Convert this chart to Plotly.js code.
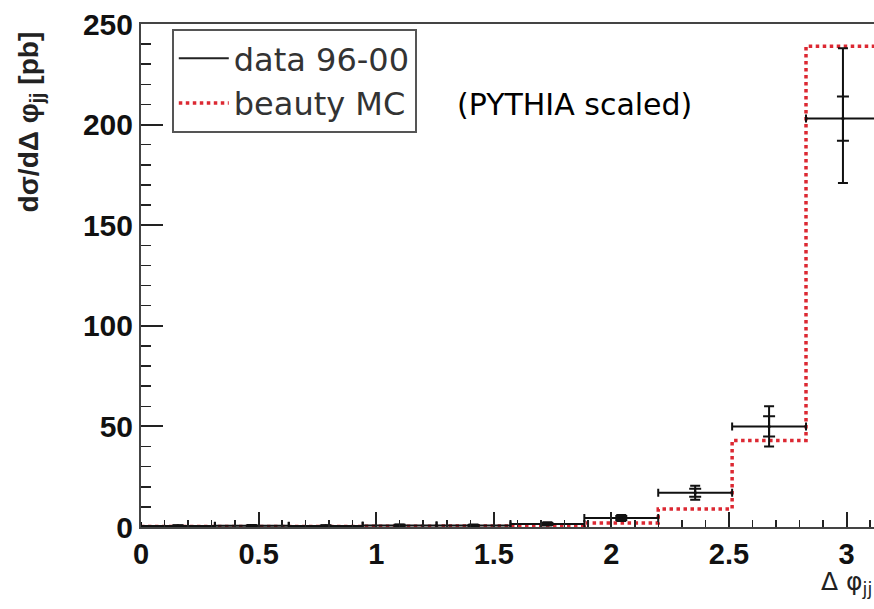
<!DOCTYPE html>
<html>
<head>
<meta charset="utf-8">
<script src="https://cdn.plot.ly/plotly-3.0.1.min.js"></script>
<style>html,body{margin:0;padding:0;background:#fff;}#chart{width:874px;height:609px;}</style>
</head>
<body>
<div id="chart"></div>
<script>
// Bin structure (Delta phi_jj, 10 bins from 0 to pi)
const binEdges = [0, 0.3142, 0.6283, 0.9425, 1.2566, 1.5708, 1.8850, 2.1991, 2.5133, 2.8274, 3.1416];
const binCenters = [0.1571, 0.4712, 0.7854, 1.0996, 1.4137, 1.7279, 2.0420, 2.3562, 2.6704, 2.9845];
const binHalfWidth = [0.1571, 0.1571, 0.1571, 0.1571, 0.1571, 0.1571, 0.1571, 0.1571, 0.1571, 0.1571];

// data 96-00 (pb)
const dataValues   = [0.5, 0.6, 0.5, 0.8, 0.7, 1.5, 4.5, 17, 50, 203];
const statErrUp    = [0.2, 0.2, 0.2, 0.3, 0.3, 0.5, 1.0, 2.0, 5, 11];
const statErrDown  = [0.2, 0.2, 0.2, 0.3, 0.3, 0.5, 1.0, 2.0, 5, 11];
const totErrUp     = [0.4, 0.4, 0.4, 0.5, 0.5, 0.8, 1.5, 3.5, 10, 35];
const totErrDown   = [0.4, 0.4, 0.4, 0.5, 0.5, 0.8, 1.5, 3.5, 10, 32];

// beauty MC (PYTHIA scaled)
const mcValues = [0.3, 0.3, 0.3, 0.4, 0.5, 0.8, 2, 9, 43, 239];

const mcX = binEdges.slice();
const mcY = mcValues.concat([mcValues[mcValues.length - 1]]);

const traces = [
  { // legend entry for data
    x: [null], y: [null], mode: 'lines', name: 'data 96-00',
    line: {color: '#222', width: 2}, showlegend: true, hoverinfo: 'skip'
  },
  { // MC step histogram
    x: mcX, y: mcY, mode: 'lines', name: 'beauty MC',
    line: {color: '#dc2832', width: 3.5, dash: 'dot', shape: 'hv'}, showlegend: true
  },
  { // data with total errors and bin widths
    x: binCenters, y: dataValues, mode: 'markers', showlegend: false,
    marker: {size: 3, color: '#111'},
    error_x: {type: 'data', array: binHalfWidth, symmetric: true, color: '#111', thickness: 2, width: 4},
    error_y: {type: 'data', array: totErrUp, arrayminus: totErrDown, symmetric: false, color: '#111', thickness: 2, width: 5}
  },
  { // data with stat errors
    x: binCenters, y: dataValues, mode: 'markers', showlegend: false,
    marker: {size: 3, color: '#111'},
    error_y: {type: 'data', array: statErrUp, arrayminus: statErrDown, symmetric: false, color: '#111', thickness: 2, width: 6}
  }
];

const layout = {
  width: 874, height: 609,
  margin: {l: 141, r: 0, t: 24, b: 82},
  paper_bgcolor: '#fff', plot_bgcolor: '#fff',
  showlegend: true,
  legend: {
    x: 0.042, y: 0.99, xanchor: 'left', yanchor: 'top',
    bgcolor: '#fff', bordercolor: '#555', borderwidth: 2,
    font: {family: 'DejaVu Sans, sans-serif', size: 32, color: '#333'},
    itemwidth: 50, tracegroupgap: 0
  },
  xaxis: {
    range: [0, 3.1165], tickvals: [0, 0.5, 1, 1.5, 2, 2.5, 3], ticktext: ['0', '0.5', '1', '1.5', '2', '2.5', '3'],
    ticks: 'inside', ticklen: 15, tickwidth: 2, tickcolor: '#222',
    minor: {dtick: 0.1, tick0: 0, ticks: 'inside', ticklen: 7, tickwidth: 1.5, tickcolor: '#222', showgrid: false},
    showline: true, linecolor: '#444', linewidth: 2, mirror: true,
    showgrid: false, zeroline: false,
    tickfont: {family: 'Liberation Sans, Arial, sans-serif', size: 29, color: '#111', weight: 'bold'}
  },
  yaxis: {
    range: [0, 250], tickvals: [0, 50, 100, 150, 200, 250],
    ticks: 'inside', ticklen: 22, tickwidth: 2, tickcolor: '#222',
    minor: {dtick: 10, tick0: 0, ticks: 'inside', ticklen: 10, tickwidth: 1.5, tickcolor: '#222', showgrid: false},
    showline: true, linecolor: '#444', linewidth: 2, mirror: false,
    showgrid: false, zeroline: false,
    tickfont: {family: 'Liberation Sans, Arial, sans-serif', size: 30, color: '#111', weight: 'bold'}
  },
  annotations: [
    {
      xref: 'paper', yref: 'paper', x: -0.151, y: 0.805, xanchor: 'center', yanchor: 'middle',
      text: 'dσ/dΔ φ<sub>jj</sub> [pb]', textangle: -90, showarrow: false,
      font: {family: 'Liberation Sans, Arial, sans-serif', size: 28, color: '#222', weight: 'bold'}
    },
    {
      xref: 'paper', yref: 'paper', x: 0.925, y: -0.112, xanchor: 'left', yanchor: 'middle',
      text: 'Δ φ<sub>jj</sub>', showarrow: false,
      font: {family: 'DejaVu Sans, sans-serif', size: 25, color: '#222'}
    },
    {
      xref: 'paper', yref: 'paper', x: 0.428, y: 0.84, xanchor: 'left', yanchor: 'middle',
      text: '(PYTHIA scaled)', showarrow: false,
      font: {family: 'DejaVu Sans, sans-serif', size: 30, color: '#000'}
    }
  ]
};

Plotly.newPlot('chart', traces, layout, {displayModeBar: false, staticPlot: true});
</script>
</body>
</html>
